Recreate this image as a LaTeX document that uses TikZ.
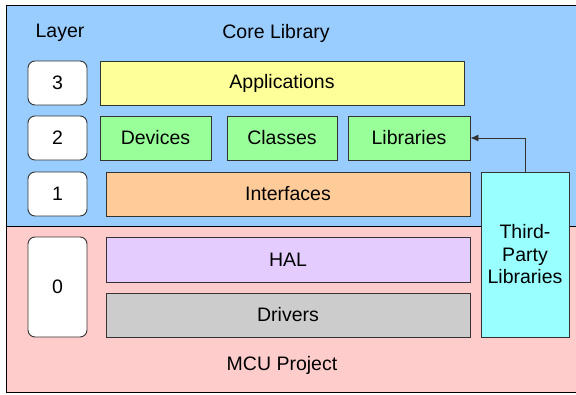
\documentclass[tikz,border=0pt]{standalone}
\usepackage{fontspec}
\setmainfont{Liberation Sans}
\usetikzlibrary{arrows.meta}

\definecolor{coreblue}{HTML}{99CCFF}
\definecolor{mcupink}{HTML}{FFCCCC}
\definecolor{appyellow}{HTML}{FFFF99}
\definecolor{modgreen}{HTML}{99FF99}
\definecolor{intforange}{HTML}{FFCC99}
\definecolor{halpurple}{HTML}{E5CCFF}
\definecolor{drvgrey}{HTML}{CCCCCC}
\definecolor{tplcyan}{HTML}{99FFFF}
\definecolor{edge}{HTML}{333333}

\begin{document}
\begin{tikzpicture}[x=1pt, y=-1pt,
  every node/.style={font=\fontsize{19.5}{22}\selectfont},
  layerbox/.style={draw=edge, line width=0.9pt, fill=white, rounded corners=7pt, minimum width=59pt},
  block/.style={draw=edge, line width=0.9pt, minimum height=44pt}]
  \useasboundingbox (0,0) rectangle (576,394);
  \clip (0,0) rectangle (576,394);

  % the two areas
  \draw[fill=coreblue, line width=0.9pt] (6,5) rectangle (590,226.5);
  \draw[fill=mcupink, line width=0.9pt] (6,226.5) rectangle (590,392);

  \node (layer) at (60,33) {Layer};
  \node (core) at (276,33) {Core Library};
  \node (mcu) at (282,365) {MCU Project};

  % layer numbers
  \node[layerbox, minimum height=44pt] (l3) at (57.5,83) {3};
  \node[layerbox, minimum height=44pt] (l2) at (57.5,138) {2};
  \node[layerbox, minimum height=44pt] (l1) at (57.5,194) {1};
  \node[layerbox, minimum height=100pt] (l0) at (57.5,287) {0};

  % blocks
  \node[block, fill=appyellow, minimum width=364pt] (app) at (282,83) {Applications};
  \node[block, fill=modgreen, minimum width=111pt] (dev) at (155.5,138) {Devices};
  \node[block, fill=modgreen, minimum width=110pt] (cls) at (282,138) {Classes};
  \node[block, fill=modgreen, minimum width=122pt] (lib) at (409,138) {Libraries};
  \node[block, fill=intforange, minimum width=364pt] (intf) at (288,194) {Interfaces};
  \node[block, fill=halpurple, minimum width=364pt, minimum height=45pt] (hal) at (288,259.5) {HAL};
  \node[block, fill=drvgrey, minimum width=364pt] (drv) at (288,315) {Drivers};
  \node[block, fill=tplcyan, minimum width=88pt, minimum height=165pt, align=center,
        inner sep=1pt, font=\fontsize{19.5}{22.5}\selectfont] (tpl) at (525,254.5) {Third-\\Party\\Libraries};

  \draw[edge, line width=0.9pt, -{Latex[length=8pt,width=7pt]}] (tpl.north) |- (lib.east);
\end{tikzpicture}
\end{document}
